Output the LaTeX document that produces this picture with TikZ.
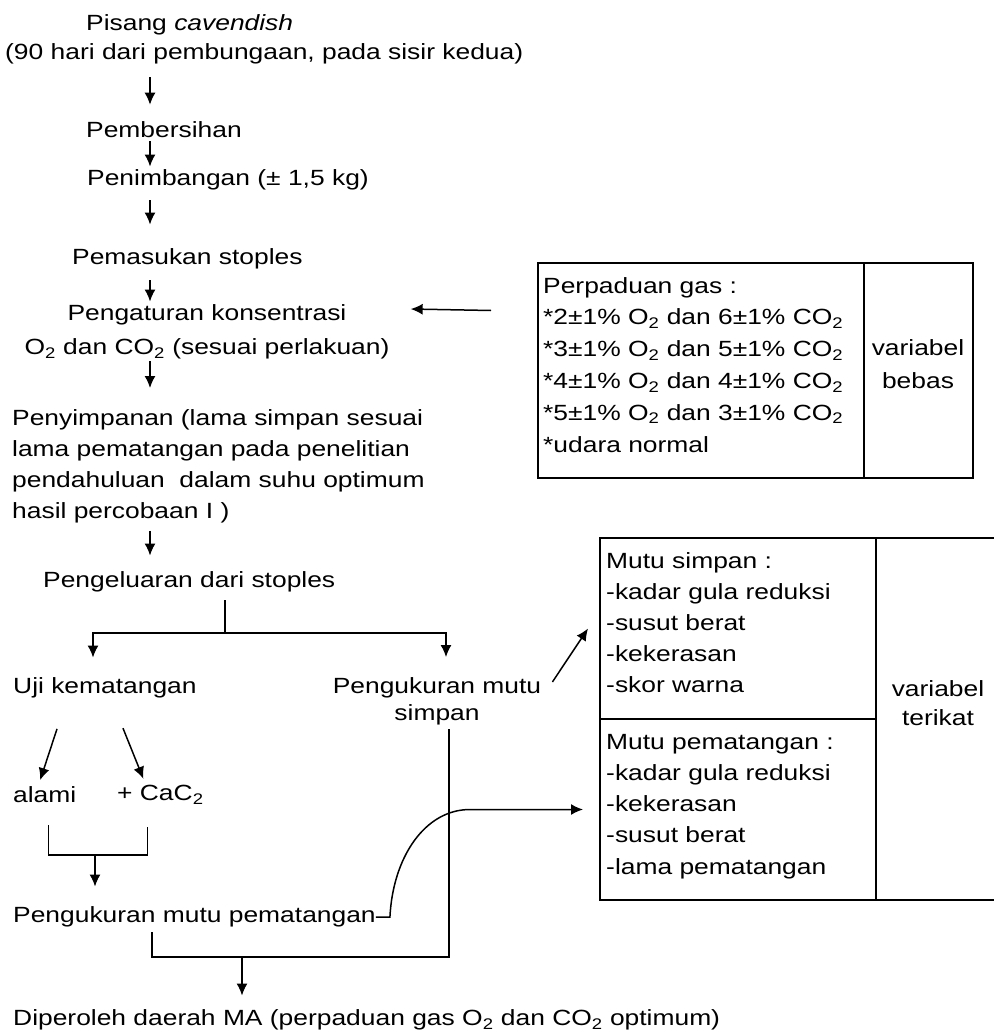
\documentclass[tikz,border=0pt]{standalone}
\usepackage{fontspec}
\setmainfont{Liberation Sans}[FakeStretch=1.2]
\usetikzlibrary{arrows.meta, calc}

\begin{document}
\begin{tikzpicture}[
  x=1pt, y=-1pt,
  font=\fontsize{22}{27}\selectfont,
  lbl/.style={inner sep=0pt, anchor=west},
  para/.style={inner sep=0pt, anchor=north west, align=left,
    font=\fontsize{22}{#1}\selectfont},
  mid/.style={inner sep=0pt, align=center, font=\fontsize{22}{#1}\selectfont},
  cell/.style={draw, line width=1.6pt, anchor=north west, inner sep=0pt,
    outer sep=0pt},
  arr/.style={-{Latex[length=12pt, width=11pt]}, line width=1.5pt},
  ln/.style={line width=1.5pt}
]
  \useasboundingbox (0,0) rectangle (993,1035);
  \coordinate (spine) at (150,0);

  % Main chain
  \node[lbl] (pisang) at (86,25) {Pisang \textit{cavendish}};
  \node[lbl] (ket) at (5,54) {(90 hari dari pembungaan, pada sisir kedua)};
  \node[lbl] (bersih) at (86,130) {Pembersihan};
  \node[lbl] (timbang) at (87,180) {Penimbangan (± 1,5 kg)};
  \node[lbl] (masuk) at (72,259) {Pemasukan stoples};
  \node[mid=34] (atur) at (207,332)
    {Pengaturan konsentrasi\\O\textsubscript{2} dan CO\textsubscript{2} (sesuai perlakuan)};
  \node[para=31] (simpan) at (12,409) {Penyimpanan (lama simpan sesuai\\lama
    pematangan pada penelitian\\pendahuluan\ \ dalam suhu optimum\\hasil percobaan I )};
  \node[lbl] (keluar) at (43,582) {Pengeluaran dari stoples};
  \node[lbl] (uji) at (13,688) {Uji kematangan};
  \node[mid=27] (ukursimpan) at (437,701) {Pengukuran mutu\\simpan};
  \node[lbl] (alami) at (13,795) {alami};
  \node[lbl] (cac) at (117,795) {+ CaC\textsubscript{2}};
  \node[lbl] (ukurmatang) at (13,917) {Pengukuran mutu pematangan};
  \node[lbl] (akhir) at (13,1020)
    {Diperoleh daerah MA (perpaduan gas O\textsubscript{2} dan CO\textsubscript{2} optimum)};

  % Gas box
  \node[cell, minimum width=326pt, minimum height=215pt] (cgas) at (538,263) {};
  \node[cell, minimum width=109pt, minimum height=215pt] (cbebas) at (864,263) {};
  \node[para=31.8] (gaslist) at (543,277) {Perpaduan gas :\\
    *2±1\% O\textsubscript{2} dan 6±1\% CO\textsubscript{2}\\
    *3±1\% O\textsubscript{2} dan 5±1\% CO\textsubscript{2}\\
    *4±1\% O\textsubscript{2} dan 4±1\% CO\textsubscript{2}\\
    *5±1\% O\textsubscript{2} dan 3±1\% CO\textsubscript{2}\\
    *udara normal};
  \node[mid=33] (bebas) at (918,364) {variabel\\bebas};

  % Quality box
  \node[cell, minimum width=276pt, minimum height=181pt] (csimpan) at (600,538) {};
  \node[cell, minimum width=276pt, minimum height=181pt] (cmatang) at (600,719) {};
  \node[cell, minimum width=125pt, minimum height=362pt] (cterikat) at (876,538) {};
  \node[para=31.2] (mutusimpan) at (606,552) {Mutu simpan :\\-kadar gula reduksi\\
    -susut berat\\-kekerasan\\-skor warna};
  \node[para=31.2] (mutumatang) at (606,734) {Mutu pematangan :\\-kadar gula reduksi\\
    -kekerasan\\-susut berat\\-lama pematangan};
  \node[mid=29] (terikat) at (938,703) {variabel\\terikat};

  % Arrows down the chain
  \draw[arr, shorten <=13pt, shorten >=17pt] (spine |- ket.south) -- (spine |- bersih.north);
  \draw[arr, shorten <=3pt, shorten >=3pt] (spine |- bersih.south) -- (spine |- timbang.north);
  \draw[arr, shorten <=10pt, shorten >=24pt] (spine |- timbang.south) -- (spine |- masuk.north);
  \draw[arr, shorten <=11pt, shorten >=3pt] (spine |- masuk.south) -- (spine |- atur.north);
  \draw[arr, shorten <=2pt, shorten >=21pt] (spine |- atur.south) -- (spine |- simpan.north);
  \draw[arr, shorten <=8pt, shorten >=16pt] (spine |- simpan.south) -- (spine |- keluar.north);
  \draw[arr] ($(cgas.west)+(-47,-60)$) -- ($(atur.east)+(21,-23)$);

  % Split after stoples
  \coordinate (split) at (225,633);
  \coordinate (lbranch) at (93,633);
  \coordinate (rbranch) at (446,633);
  \draw[ln, shorten <=8pt] (split |- keluar.south) -- (split);
  \draw[arr, shorten >=20pt] (split) -| (lbranch |- uji.north);
  \draw[arr, shorten >=20pt] (split) -| (rbranch |- ukursimpan.north);

  % Ripening test
  \draw[arr, shorten <=32pt, shorten >=7pt] ($(uji.south west)+(54,0)$) -- ($(alami.north west)+(25,0)$);
  \draw[arr, shorten <=32pt, shorten >=7pt] ($(uji.south west)+(98,0)$) -- ($(cac.north west)+(29,0)$);
  \coordinate (join) at (95,855);
  \draw[ln] ($(alami.south)+(4,22)$) |- (join) -| ($(cac.south)+(-13,22)$);
  \draw[arr, shorten >=20pt] (join) -- (join |- ukurmatang.north);

  % Merge to result
  \coordinate (merge) at (242,957);
  \draw[ln] ($(ukurmatang.south west)+(139,5)$) |- (merge) -| ($(ukursimpan.south)+(12,4)$);
  \draw[arr, shorten >=14pt] (merge) -- (merge |- akhir.north);

  % To the quality box
  \draw[arr] ($(ukursimpan.east)+(11,-19)$) -- ($(csimpan.west)+(-12,0)$);
  \draw[arr] (ukurmatang.east) -- ++(14,0) .. controls +(3,-60) and +(-45,0)
    .. ($(cmatang.west)+(-130,0)$) -- ($(cmatang.west)+(-17,0)$);
\end{tikzpicture}
\end{document}
